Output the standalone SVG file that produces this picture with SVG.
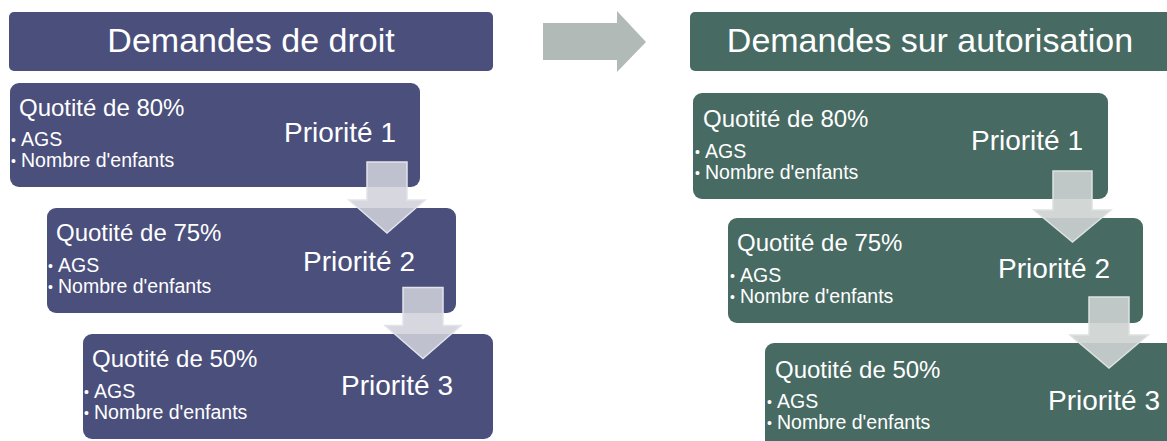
<svg xmlns="http://www.w3.org/2000/svg" width="1167" height="441" viewBox="0 0 1167 441">
<style>
.t{font-family:"Liberation Sans",Arial,sans-serif;fill:#ffffff}
.title{font-size:34px}
.q{font-size:24px}
.b{font-size:19.5px}
.d{font-size:14px}
.p{font-size:28px}
.nav{fill:#4b4f7c}
.grn{fill:#476a63}
.al{fill:#d0d1db;fill-opacity:0.88;stroke:#e2e3ea;stroke-width:1.5}
.ar{fill:#cdd3d1;fill-opacity:0.9;stroke:#dde2e0;stroke-width:1.5}
</style>
<rect width="1167" height="441" fill="#ffffff"/>
<g id="title-left">
<rect class="nav" x="9" y="12" width="484" height="59" rx="5"/>
<text class="t title" x="251" y="52" text-anchor="middle">Demandes de droit</text>
</g>
<g id="title-right">
<rect class="grn" x="690" y="12" width="490" height="59" rx="5"/>
<text class="t title" x="930" y="52" text-anchor="middle">Demandes sur autorisation</text>
</g>
<g id="left-p1">
<rect class="nav" x="10" y="83" width="410" height="104" rx="9"/>
<text class="t q" x="19" y="116">Quotité de 80%</text>
<text class="t b" y="146"><tspan class="d" x="11" dy="-1">•</tspan><tspan x="21" dy="1">AGS</tspan></text>
<text class="t b" y="167"><tspan class="d" x="11" dy="-1">•</tspan><tspan x="21" dy="1">Nombre d'enfants</tspan></text>
<text class="t p" x="284" y="142">Priorité 1</text>
</g>
<g id="left-p2">
<rect class="nav" x="47" y="208" width="409" height="105" rx="9"/>
<text class="t q" x="56" y="241">Quotité de 75%</text>
<text class="t b" y="272"><tspan class="d" x="48" dy="-1">•</tspan><tspan x="58" dy="1">AGS</tspan></text>
<text class="t b" y="293"><tspan class="d" x="48" dy="-1">•</tspan><tspan x="58" dy="1">Nombre d'enfants</tspan></text>
<text class="t p" x="303" y="271">Priorité 2</text>
</g>
<g id="left-p3">
<rect class="nav" x="83" y="334" width="410" height="105" rx="9"/>
<text class="t q" x="92" y="367">Quotité de 50%</text>
<text class="t b" y="398"><tspan class="d" x="84" dy="-1">•</tspan><tspan x="94" dy="1">AGS</tspan></text>
<text class="t b" y="419"><tspan class="d" x="84" dy="-1">•</tspan><tspan x="94" dy="1">Nombre d'enfants</tspan></text>
<text class="t p" x="341" y="395">Priorité 3</text>
</g>
<g id="right-p1">
<rect class="grn" x="693" y="93" width="415" height="106" rx="9"/>
<text class="t q" x="703" y="127">Quotité de 80%</text>
<text class="t b" y="158"><tspan class="d" x="695" dy="-1">•</tspan><tspan x="705" dy="1">AGS</tspan></text>
<text class="t b" y="179"><tspan class="d" x="695" dy="-1">•</tspan><tspan x="705" dy="1">Nombre d'enfants</tspan></text>
<text class="t p" x="971" y="150">Priorité 1</text>
</g>
<g id="right-p2">
<rect class="grn" x="728" y="218" width="415" height="105" rx="9"/>
<text class="t q" x="737" y="251">Quotité de 75%</text>
<text class="t b" y="282"><tspan class="d" x="730" dy="-1">•</tspan><tspan x="740" dy="1">AGS</tspan></text>
<text class="t b" y="303"><tspan class="d" x="730" dy="-1">•</tspan><tspan x="740" dy="1">Nombre d'enfants</tspan></text>
<text class="t p" x="998" y="278">Priorité 2</text>
</g>
<g id="right-p3">
<rect class="grn" x="765" y="343" width="415" height="106" rx="9"/>
<text class="t q" x="775" y="378">Quotité de 50%</text>
<text class="t b" y="408"><tspan class="d" x="767" dy="-1">•</tspan><tspan x="777" dy="1">AGS</tspan></text>
<text class="t b" y="429"><tspan class="d" x="767" dy="-1">•</tspan><tspan x="777" dy="1">Nombre d'enfants</tspan></text>
<text class="t p" x="1048" y="410">Priorité 3</text>
</g>
<g id="connectors">
<path d="M543,23 H617 V11 L646,42 L617,72 V60 H543 Z" fill="#b2bab8"/>
<path class="al" d="M367,162 H407 V200 H425 L387,233 L349,200 H367 Z"/>
<path class="al" d="M403,287.5 H443 V325.5 H461 L423,358.5 L385,325.5 H403 Z"/>
<path class="ar" d="M1053,171 H1092 V210 H1111 L1072.5,242 L1034,210 H1053 Z"/>
<path class="ar" d="M1089,297 H1129 V335 H1148 L1109,368 L1070,335 H1089 Z"/>
</g>
</svg>
